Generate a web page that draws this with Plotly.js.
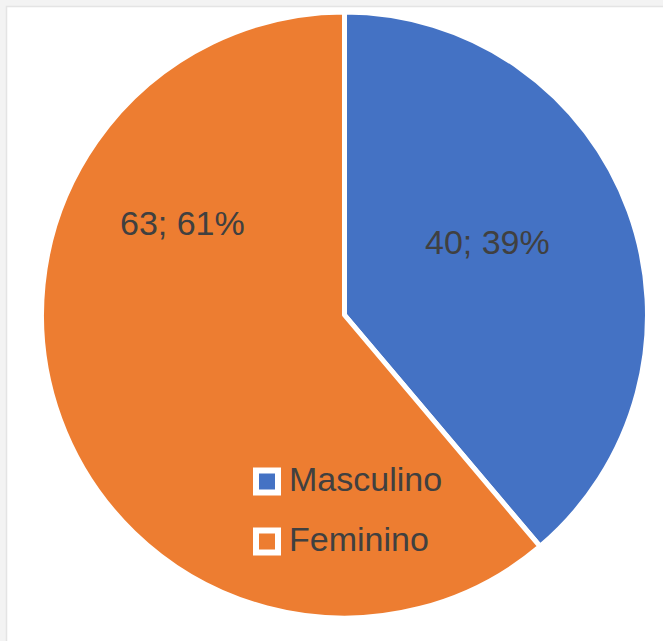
<!DOCTYPE html>
<html>
<head>
<meta charset="utf-8">
<script src="https://cdn.plot.ly/plotly-3.0.1.min.js"></script>
<style>html,body{margin:0;padding:0;background:#fff;}#chart{width:663px;height:641px;}</style>
</head>
<body>
<div id="chart"></div>
<script>
const categories = ['Masculino', 'Feminino'];
const values = [40, 63];
const colors = ['#4472C4', '#ED7D31'];

const W = 663, H = 641;
const px = x => x / W;
const py = y => 1 - y / H;

const total = values.reduce((a, b) => a + b, 0);
const labelText = values.map(v => v + '; ' + Math.round(v / total * 100) + '%');

// label centres (pixels) and legend layout (pixels)
const labelPos = [[487, 242], [182, 223]];
const legendRows = [481.5, 541.5];

const cx = 344.5, cy = 315, R = 303;

const trace = {
  type: 'pie',
  labels: categories,
  values: values,
  sort: false,
  direction: 'clockwise',
  rotation: 0,
  textinfo: 'none',
  hoverinfo: 'label+value+percent',
  marker: {colors: colors, line: {color: '#ffffff', width: 5}},
  domain: {x: [px(cx - R), px(cx + R)], y: [py(cy + R), py(cy - R)]},
  showlegend: false
};

const shapes = [
  {type: 'rect', xref: 'paper', yref: 'paper', layer: 'below',
   x0: px(6.5), x1: 1.02, y0: -0.02, y1: py(6.5),
   fillcolor: '#ffffff', line: {color: '#e4e4e4', width: 1.5}}
];
const annotations = [];

categories.forEach((c, i) => {
  annotations.push({
    xref: 'paper', yref: 'paper', x: px(labelPos[i][0]), y: py(labelPos[i][1]),
    xanchor: 'center', yanchor: 'middle', showarrow: false,
    text: labelText[i],
    font: {family: 'Liberation Sans, Arial, sans-serif', size: 34, color: '#404040'}
  });
  const yc = legendRows[i];
  shapes.push({type: 'rect', xref: 'paper', yref: 'paper', layer: 'above',
    x0: px(256), x1: px(278), y0: py(yc + 11), y1: py(yc - 11),
    fillcolor: colors[i], line: {color: '#ffffff', width: 6}});
  annotations.push({
    xref: 'paper', yref: 'paper', x: px(287), y: py(yc - 3),
    xanchor: 'left', yanchor: 'middle', showarrow: false,
    text: c,
    font: {family: 'Liberation Sans, Arial, sans-serif', size: 34, color: '#404040'}
  });
});

const layout = {
  width: W, height: H,
  margin: {l: 0, r: 0, t: 0, b: 0},
  paper_bgcolor: '#f3f3f3',
  plot_bgcolor: '#ffffff',
  showlegend: false,
  shapes: shapes,
  annotations: annotations
};

Plotly.newPlot('chart', [trace], layout, {displayModeBar: false, staticPlot: true});
</script>
</body>
</html>
